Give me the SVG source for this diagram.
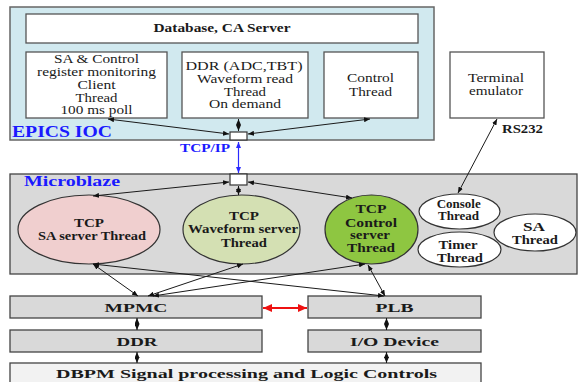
<svg xmlns="http://www.w3.org/2000/svg" width="578" height="382" viewBox="0 0 578 382">
  <style>
    .box { fill: #ffffff; stroke: #555555; stroke-width: 1.3; }
    .grey { fill: #d9d9d9; stroke: #444444; stroke-width: 1.3; }
    .ell { stroke: #333333; stroke-width: 1.2; }
    .r { font-family: "Liberation Serif", "Times New Roman", serif; font-size: 12.5px; fill: #1a1a1a; text-anchor: middle; }
    .b { font-family: "Liberation Serif", "Times New Roman", serif; font-weight: bold; font-size: 13px; fill: #1a1a1a; text-anchor: middle; }
    .blue { font-family: "Liberation Serif", "Times New Roman", serif; font-weight: bold; fill: #1a1aff; }
    .wire { stroke: #1a1a1a; stroke-width: 1; fill: none; marker-start: url(#ah); marker-end: url(#ah); }
  </style>
  <defs>
    <marker id="ah" viewBox="0 0 10 10" refX="10" refY="5" markerWidth="6" markerHeight="5" preserveAspectRatio="none" markerUnits="userSpaceOnUse" orient="auto-start-reverse">
      <path d="M0,0 L10,5 L0,10 z" fill="#111111"/>
    </marker>
    <marker id="ahBlue" viewBox="0 0 10 10" refX="10" refY="5" markerWidth="6" markerHeight="5" preserveAspectRatio="none" markerUnits="userSpaceOnUse" orient="auto-start-reverse">
      <path d="M0,0 L10,5 L0,10 z" fill="#2a2aff"/>
    </marker>
    <marker id="ahRed" viewBox="0 0 10 10" refX="10" refY="5" markerWidth="9" markerHeight="8" preserveAspectRatio="none" markerUnits="userSpaceOnUse" orient="auto-start-reverse">
      <path d="M0,0 L10,5 L0,10 z" fill="#ee1111"/>
    </marker>
  </defs>

  <rect width="578" height="382" fill="#ffffff"/>

  <!-- EPICS IOC host -->
  <g id="epics-ioc">
    <rect x="10" y="7" width="424" height="133" fill="#d1e9ef" stroke="#666666" stroke-width="1.5"/>
    <text class="blue" x="12" y="137" font-size="16" textLength="100" lengthAdjust="spacingAndGlyphs">EPICS IOC</text>
  </g>

  <g id="ca-server">
    <rect class="box" x="26" y="14" width="392" height="29"/>
    <text class="b" x="222" y="32" font-size="12.5" textLength="137" lengthAdjust="spacingAndGlyphs">Database, CA Server</text>
  </g>

  <g id="sa-client">
    <rect class="box" x="26" y="52" width="141" height="66"/>
    <text class="r" x="96.5" y="63" textLength="85" lengthAdjust="spacingAndGlyphs">SA &amp; Control</text>
    <text class="r" x="96.5" y="75.8" textLength="119" lengthAdjust="spacingAndGlyphs">register monitoring</text>
    <text class="r" x="96.5" y="88.5" textLength="38" lengthAdjust="spacingAndGlyphs">Client</text>
    <text class="r" x="96.5" y="101.5" textLength="42" lengthAdjust="spacingAndGlyphs">Thread</text>
    <text class="r" x="96.5" y="114.3" textLength="72" lengthAdjust="spacingAndGlyphs">100 ms poll</text>
  </g>

  <g id="ddr-read">
    <rect class="box" x="182" y="52" width="126" height="66"/>
    <text class="r" x="244" y="70" textLength="117" lengthAdjust="spacingAndGlyphs">DDR (ADC,TBT)</text>
    <text class="r" x="245" y="82.5" textLength="96" lengthAdjust="spacingAndGlyphs">Waveform read</text>
    <text class="r" x="245" y="95.7" textLength="42" lengthAdjust="spacingAndGlyphs">Thread</text>
    <text class="r" x="245" y="108.3" textLength="72" lengthAdjust="spacingAndGlyphs">On demand</text>
  </g>

  <g id="control-thread">
    <rect class="box" x="324" y="52" width="94" height="66"/>
    <text class="r" x="370.5" y="82.3" textLength="47" lengthAdjust="spacingAndGlyphs">Control</text>
    <text class="r" x="370.5" y="95.7" textLength="43" lengthAdjust="spacingAndGlyphs">Thread</text>
  </g>

  <g id="terminal">
    <rect class="box" x="450" y="52" width="94" height="66"/>
    <text class="r" x="496" y="82.3" textLength="56" lengthAdjust="spacingAndGlyphs">Terminal</text>
    <text class="r" x="496" y="95.3" textLength="54" lengthAdjust="spacingAndGlyphs">emulator</text>
  </g>

  <g id="ioc-port">
    <rect x="230" y="132" width="17" height="8" fill="#ffffff" stroke="#333333" stroke-width="1.2"/>
  </g>

  <!-- Microblaze processor -->
  <g id="microblaze">
    <rect class="grey" x="10" y="174" width="567" height="100"/>
    <text class="blue" x="24" y="186" font-size="14" textLength="96" lengthAdjust="spacingAndGlyphs">Microblaze</text>
  </g>

  <g id="mb-port">
    <rect x="230" y="174" width="17" height="11" fill="#ffffff" stroke="#333333" stroke-width="1.2"/>
  </g>

  <g id="tcp-sa">
    <ellipse class="ell" cx="89" cy="229.5" rx="71" ry="34.5" fill="#f0cfcf"/>
    <text class="b" x="89" y="226.7" textLength="30" lengthAdjust="spacingAndGlyphs">TCP</text>
    <text class="b" x="92" y="240" textLength="108" lengthAdjust="spacingAndGlyphs">SA server Thread</text>
  </g>

  <g id="tcp-waveform">
    <ellipse class="ell" cx="241.5" cy="229.5" rx="58.5" ry="34.5" fill="#d4e0b3"/>
    <text class="b" x="244" y="220" font-size="12.5" textLength="30" lengthAdjust="spacingAndGlyphs">TCP</text>
    <text class="b" x="243" y="233.3" font-size="12.5" textLength="110" lengthAdjust="spacingAndGlyphs">Waveform server</text>
    <text class="b" x="244" y="246.7" font-size="12.5" textLength="46" lengthAdjust="spacingAndGlyphs">Thread</text>
  </g>

  <g id="tcp-control">
    <ellipse class="ell" cx="371.5" cy="229.5" rx="46.5" ry="34.5" fill="#8ec641"/>
    <text class="b" x="371" y="213.3" font-size="11.5" textLength="31" lengthAdjust="spacingAndGlyphs">TCP</text>
    <text class="b" x="371" y="226.5" font-size="11.5" textLength="52" lengthAdjust="spacingAndGlyphs">Control</text>
    <text class="b" x="370" y="239.2" font-size="11.5" textLength="40" lengthAdjust="spacingAndGlyphs">server</text>
    <text class="b" x="371" y="252.3" font-size="11.5" textLength="48" lengthAdjust="spacingAndGlyphs">Thread</text>
  </g>

  <g id="console-thread">
    <ellipse class="ell" cx="459.5" cy="211.5" rx="40.5" ry="17.5" fill="#ffffff"/>
    <text class="b" x="458.7" y="207.8" font-size="10" textLength="44" lengthAdjust="spacingAndGlyphs">Console</text>
    <text class="b" x="458.5" y="219.5" font-size="10" textLength="41" lengthAdjust="spacingAndGlyphs">Thread</text>
  </g>

  <g id="timer-thread">
    <ellipse class="ell" cx="459.5" cy="249.5" rx="41.5" ry="17.5" fill="#ffffff"/>
    <text class="b" x="458" y="249" font-size="11" textLength="39" lengthAdjust="spacingAndGlyphs">Timer</text>
    <text class="b" x="460" y="261.7" font-size="11" textLength="46" lengthAdjust="spacingAndGlyphs">Thread</text>
  </g>

  <g id="sa-thread">
    <ellipse class="ell" cx="535" cy="232.5" rx="41" ry="18.5" fill="#ffffff"/>
    <text class="b" x="534" y="230.6" font-size="11" textLength="22" lengthAdjust="spacingAndGlyphs">SA</text>
    <text class="b" x="535" y="243.5" font-size="11" textLength="46" lengthAdjust="spacingAndGlyphs">Thread</text>
  </g>

  <!-- Hardware blocks -->
  <g id="mpmc">
    <rect class="grey" x="10" y="296" width="252" height="22"/>
    <text class="b" x="136" y="312" font-size="15" textLength="63" lengthAdjust="spacingAndGlyphs">MPMC</text>
  </g>

  <g id="plb">
    <rect class="grey" x="308" y="296" width="173" height="22"/>
    <text class="b" x="394.5" y="312" font-size="15" textLength="38" lengthAdjust="spacingAndGlyphs">PLB</text>
  </g>

  <g id="ddr">
    <rect class="grey" x="10" y="330" width="252" height="22"/>
    <text class="b" x="137" y="345.5" font-size="15" textLength="41" lengthAdjust="spacingAndGlyphs">DDR</text>
  </g>

  <g id="io-device">
    <rect class="grey" x="308" y="330" width="173" height="22"/>
    <text class="b" x="394.5" y="345.5" font-size="15" textLength="89" lengthAdjust="spacingAndGlyphs">I/O Device</text>
  </g>

  <g id="dbpm">
    <rect x="10" y="363" width="471" height="25" fill="#f2f2f2" stroke="#444444" stroke-width="1.3"/>
    <text class="b" x="246.5" y="378" font-size="15" textLength="381" lengthAdjust="spacingAndGlyphs">DBPM Signal processing and Logic Controls</text>
  </g>

  <!-- Connectors -->
  <g id="connectors">
    <line class="wire" x1="108" y1="119" x2="229" y2="134"/>
    <line class="wire" x1="238.5" y1="119" x2="238.5" y2="131"/>
    <line class="wire" x1="370" y1="119" x2="248" y2="134"/>

    <line x1="238.5" y1="142" x2="238.5" y2="173" stroke="#2a2aff" stroke-width="1.2" marker-start="url(#ahBlue)" marker-end="url(#ahBlue)"/>
    <text class="blue" x="180" y="151.5" font-size="11.5" textLength="50" lengthAdjust="spacingAndGlyphs">TCP/IP</text>

    <line class="wire" x1="93" y1="196" x2="229" y2="182"/>
    <line class="wire" x1="238.5" y1="186" x2="238.5" y2="195"/>
    <line class="wire" x1="352" y1="198" x2="248" y2="182"/>

    <line class="wire" x1="497" y1="119" x2="458" y2="193"/>
    <text class="b" x="502" y="133" font-size="11" style="text-anchor:start" textLength="41" lengthAdjust="spacingAndGlyphs">RS232</text>

    <line class="wire" x1="93" y1="264" x2="138" y2="296"/>
    <line class="wire" x1="243" y1="264" x2="148" y2="296"/>
    <line class="wire" x1="365" y1="264" x2="153" y2="296"/>
    <line class="wire" x1="93" y1="264" x2="384" y2="296"/>
    <line class="wire" x1="368" y1="265" x2="385" y2="296"/>

    <line x1="263" y1="308" x2="307" y2="308" stroke="#ee1111" stroke-width="2" marker-start="url(#ahRed)" marker-end="url(#ahRed)"/>

    <line class="wire" x1="137" y1="318" x2="137" y2="330"/>
    <line class="wire" x1="386.5" y1="318" x2="386.5" y2="330"/>
    <line class="wire" x1="137" y1="352" x2="137" y2="363"/>
    <line class="wire" x1="386.5" y1="352" x2="386.5" y2="363"/>
  </g>
</svg>
